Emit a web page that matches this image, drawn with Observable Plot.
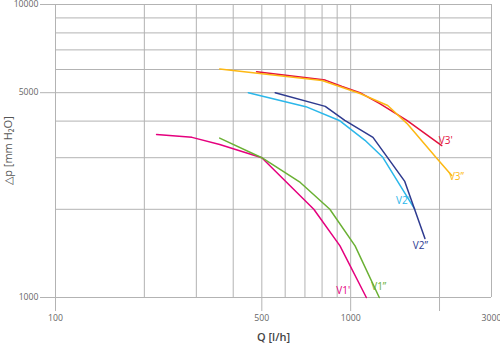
<!DOCTYPE html>
<html><head><meta charset="utf-8">
<script src="https://cdn.jsdelivr.net/npm/d3@7"></script>
<script src="https://cdn.jsdelivr.net/npm/@observablehq/plot@0.6"></script>
<style>body{margin:0;background:#fff}</style>
</head><body><div id="chart"></div>
<script>
// Series names and colours
const seriesNames = ["V1'", "V1\u201D", "V2'", "V2\u201D", "V3'", "V3\u201D"];
const seriesColors = ["#e5007e", "#6ab033", "#2bb7ea", "#2e3a8f", "#e3103d", "#fdb813"];

// Curves: [Q l/h, Δp mm H2O]
const v1a = [[220,3600],[290,3520],[360,3330],[500,3000],[750,2000],[920,1500],[1130,1000]];
const v1b = [[360,3500],[500,3000],[675,2470],[850,2000],[1035,1500],[1250,1000]];
const v2a = [[450,5000],[705,4480],[915,4020],[1118,3440],[1285,3010],[1650,2000]];
const v2b = [[555,5000],[820,4490],[955,4020],[1190,3520],[1525,2490],[1785,1590]];
const v3a = [[480,5900],[820,5520],[935,5250],[1075,5000],[1255,4590],[1550,4020],[2035,3300]];
const v3b = [[360,6020],[800,5500],[1075,4970],[1335,4520],[1550,3930],[1960,2980],[2200,2610]];

// Label anchor points [Q, Δp]
const labelQ  = [944, 1245, 1503, 1722, 2100, 2283];
const labelDp = [1057, 1090, 2144, 1505, 3436, 2588];
const labelAnchor = ["start", "start", "end", "start", "start", "start"];

// Axis titles
const xTitle = "Q [l/h]";
const yTitle = "\u25B3p [mm H\u2082O]";

// Ticks
const xGridTicks = [100,200,300,400,500,600,700,800,900,1000,2000,3000];
const yGridTicks = [1000,2000,3000,4000,5000,6000,7000,8000,9000,10000];
const xTickMarks = [100,500,1000,2000];
const xTickLabels = [100,500,1000,3000];
const yTickLabels = [1000,5000,10000];

const curves = [v1a, v1b, v2a, v2b, v3a, v3b];
const table = curves.flatMap((pts, i) => pts.map(([q, dp]) => ({series: seriesNames[i], q, dp})));
const labels = seriesNames.map((s, i) => ({series: s, q: labelQ[i], dp: labelDp[i], anchor: labelAnchor[i]}));

const W = 500, H = 351, mL = 55, mR = 9, mT = 4, mB = 54;
const gridColor = "#b3b3b3";
const chart = Plot.plot({
  width: W, height: H,
  marginLeft: mL, marginRight: mR, marginTop: mT, marginBottom: mB,
  style: {fontFamily: "'Open Sans', 'Noto Sans', sans-serif", background: "#fff", color: "#555", overflow: "visible"},
  x: {type: "log", domain: [100, 3000]},
  y: {type: "log", domain: [1000, 10000]},
  color: {domain: seriesNames, range: seriesColors},
  marks: [
    Plot.gridX(xGridTicks, {stroke: gridColor, strokeOpacity: 1}),
    Plot.gridY(yGridTicks, {stroke: gridColor, strokeOpacity: 1}),
    Plot.axisX({ticks: xTickMarks, tickSize: 14, text: null, stroke: gridColor, label: null}),
    Plot.axisX({ticks: xTickLabels, tickSize: 0, tickPadding: 17, tickFormat: d3.format("d"), fontSize: 8.7, fill: "#666", label: null}),
    Plot.axisY({ticks: yTickLabels, tickSize: 15, tickPadding: 2, tickFormat: d3.format("d"), fontSize: 8.7, fill: "#666", stroke: gridColor, label: null}),
    Plot.line(table, {x: "q", y: "dp", z: "series", stroke: "series", strokeWidth: 1.5, curve: "linear"}),
    Plot.text(labels, {x: "q", y: "dp", text: "series", fill: "series", textAnchor: d => d.anchor, fontSize: 10}),
    Plot.text([xTitle], {frameAnchor: "bottom", dy: 43, textAnchor: "middle", fontSize: 11, fontWeight: 600, fill: "#444"})
  ]
});
// y-axis title: rotated real SVG text centred on the plot frame
const svg = d3.select(chart);
svg.append("text")
  .attr("transform", `translate(8,${(mT + H - mB) / 2}) rotate(-90)`)
  .attr("text-anchor", "middle")
  .attr("dy", "0.35em")
  .attr("font-size", 11)
  .attr("fill", "#555")
  .text(yTitle);
document.getElementById("chart").appendChild(chart);
</script>
</body></html>
